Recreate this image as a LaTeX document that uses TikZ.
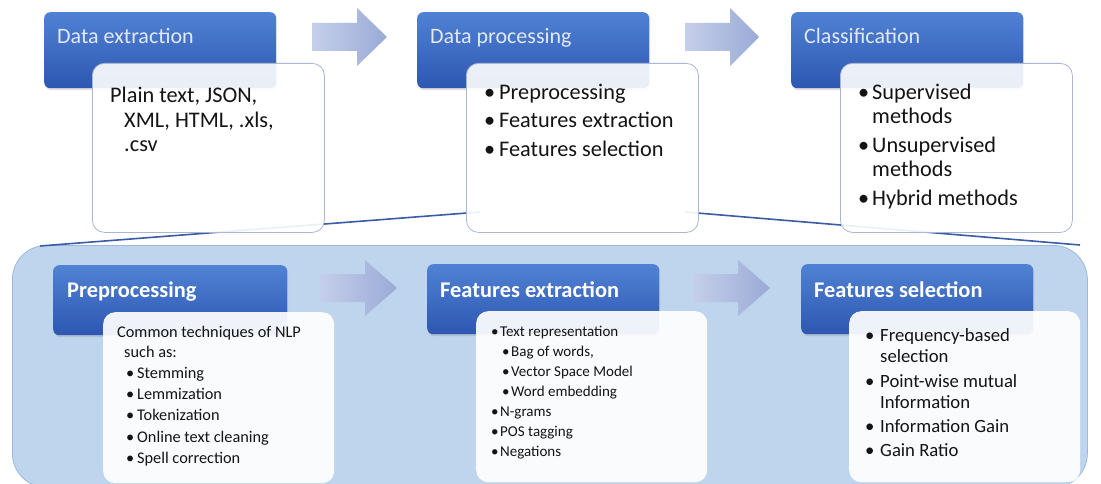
\documentclass[tikz,border=0pt]{standalone}
\usepackage{fontspec}
\setmainfont{Carlito}
\usetikzlibrary{shadows}
\definecolor{bluetop}{HTML}{5082D4}
\definecolor{bluebot}{HTML}{2D57B1}
\definecolor{lighttext}{HTML}{E2E8F6}
\definecolor{panel}{HTML}{BED5ED}
\definecolor{panelborder}{HTML}{9DB8DC}
\definecolor{wbborder}{HTML}{A9B7D5}
\definecolor{arrl}{HTML}{C5CFEA}
\definecolor{arrr}{HTML}{9AAAD6}
\definecolor{linec}{HTML}{3A5CA6}
\definecolor{txt}{HTML}{141414}
\newcommand\flowarrow[6]{% x0, neck, tip, yc, shaft half, head half
  \path[arrowfill] ({#1},{#4-#5}) -- ({#2},{#4-#5}) -- ({#2},{#4-#6}) -- ({#3},{#4})
    -- ({#2},{#4+#6}) -- ({#2},{#4+#5}) -- ({#1},{#4+#5}) -- cycle;}
\newcommand\bl[2]{\makebox[#1][l]{•}#2}
\begin{document}
\begin{tikzpicture}[x=1pt,y=-1pt,
  bluebox/.style={draw=none, rounded corners=6pt, top color=bluetop, bottom color=bluebot,
    minimum width=232pt, minimum height=76pt, anchor=north west, inner sep=0pt,
    drop shadow={opacity=0.25, shadow xshift=1pt, shadow yshift=-2pt}},
  lowblue/.style={bluebox, minimum height=70pt},
  whitebox/.style={draw=wbborder, line width=0.8pt, fill=white, fill opacity=0.9,
    rounded corners=12pt, minimum width=232pt, minimum height=169pt, anchor=north west, inner sep=0pt},
  lowwhite/.style={draw=none, fill=white, fill opacity=0.92, rounded corners=12pt,
    minimum width=231pt, minimum height=171pt, anchor=north west, inner sep=0pt},
  arrowfill/.style={left color=arrl, right color=arrr, draw=none},
  toptitle/.style={anchor=base west, inner sep=0pt, text=lighttext, font=\fontsize{22}{26}\selectfont},
  lowtitle/.style={anchor=base west, inner sep=0pt, text=white, font=\bfseries\fontsize{22.4}{26}\selectfont},
  toptext/.style={anchor=base west, inner sep=0pt, text=txt, font=\fontsize{22.3}{26}\selectfont},
  pptext/.style={anchor=base west, inner sep=0pt, text=txt, font=\fontsize{16.3}{19}\selectfont},
  fetext/.style={anchor=base west, inner sep=0pt, text=txt, font=\fontsize{15}{18}\selectfont},
  fstext/.style={anchor=base west, inner sep=0pt, text=txt, font=\fontsize{18.7}{22}\selectfont},
  zoomline/.style={draw=linec, line width=1.6pt}
]
\useasboundingbox (0,0) rectangle (1101,484);
\clip (0,0) rectangle (1101,484);
\fill[white] (0,0) rectangle (1101,484);

% lower panel
\node[draw=panelborder, line width=0.8pt, fill=panel, rounded corners=34pt, anchor=north west,
  minimum width=1075pt, minimum height=242pt, inner sep=0pt] (panel) at (12,245) {};

% zoom lines
\coordinate (zl1) at (40,246);
\coordinate (zl2) at (480,212);
\coordinate (zr1) at (685,212);
\coordinate (zr2) at (1080,245);
\draw[zoomline] (zl1) -- (zl2);
\draw[zoomline] (zr1) -- (zr2);

% top row
\node[bluebox] (de) at (44,12) {};
\node[whitebox] (dew) at (92,63) {};
\node[toptitle] (det) at (57,44) {Data extraction};
\node[toptext] (de1) at (110,103) {Plain text, JSON,};
\node[toptext] (de2) at (124,128) {XML, HTML, .xls,};
\node[toptext] (de3) at (124,152) {.csv};

\flowarrow{312}{357}{387}{37}{14}{29}

\node[bluebox] (dp) at (417,12) {};
\node[whitebox] (dpw) at (466,63) {};
\node[toptitle] (dpt) at (430,44) {Data processing};
\node[toptext] (dp1) at (484,100) {\bl{15pt}{Preprocessing}};
\node[toptext] (dp2) at (484,128) {\bl{15pt}{Features extraction}};
\node[toptext] (dp3) at (484,157) {\bl{15pt}{Features selection}};

\flowarrow{685}{730}{759}{37}{14}{29}

\node[bluebox] (cl) at (791,12) {};
\node[whitebox] (clw) at (840,63) {};
\node[toptitle] (clt) at (804,44) {Classification};
\node[toptext] (cl1) at (858,100) {\bl{14pt}{Supervised}};
\node[toptext] (cl2) at (872,124) {methods};
\node[toptext] (cl3) at (858,153) {\bl{14pt}{Unsupervised}};
\node[toptext] (cl4) at (872,177) {methods};
\node[toptext] (cl5) at (858,206) {\bl{14pt}{Hybrid methods}};

% lower row
\node[lowblue, minimum width=234pt] (pp) at (53,265) {};
\node[lowwhite] (ppw) at (103,312) {};
\node[lowtitle] (ppt) at (67,297) {Preprocessing};
\node[pptext] (pp1) at (117,337) {Common techniques of NLP};
\node[pptext] (pp2) at (124,357) {such as:};
\node[pptext] (pp3) at (126,378) {\bl{11pt}{Stemming}};
\node[pptext] (pp4) at (126,399) {\bl{11pt}{Lemmization}};
\node[pptext] (pp5) at (126,420) {\bl{11pt}{Tokenization}};
\node[pptext] (pp6) at (126,442) {\bl{11pt}{Online text cleaning}};
\node[pptext] (pp7) at (126,463) {\bl{11pt}{Spell correction}};

\flowarrow{320}{365}{397}{288}{14}{28}

\node[lowblue] (fe) at (427,264) {};
\node[lowwhite] (few) at (476,311) {};
\node[lowtitle] (fet) at (440,297) {Features extraction};
\node[fetext] (fe1) at (491,336) {\bl{9pt}{Text representation}};
\node[fetext] (fe2) at (502,356) {\bl{9pt}{Bag of words,}};
\node[fetext] (fe3) at (502,376) {\bl{9pt}{Vector Space Model}};
\node[fetext] (fe4) at (502,396) {\bl{9pt}{Word embedding}};
\node[fetext] (fe5) at (491,416) {\bl{9pt}{N-grams}};
\node[fetext] (fe6) at (491,436) {\bl{9pt}{POS tagging}};
\node[fetext] (fe7) at (491,456) {\bl{9pt}{Negations}};

\flowarrow{693}{738}{770}{288}{14}{28}

\node[lowblue] (fs) at (801,264) {};
\node[lowwhite] (fsw) at (849,311) {};
\node[lowtitle] (fst) at (814,297) {Features selection};
\node[fstext] (fs1) at (865,341) {\bl{15pt}{Frequency-based}};
\node[fstext] (fs2) at (880,362) {selection};
\node[fstext] (fs3) at (865,387) {\bl{15pt}{Point-wise mutual}};
\node[fstext] (fs4) at (880,408) {Information};
\node[fstext] (fs5) at (865,432) {\bl{15pt}{Information Gain}};
\node[fstext] (fs6) at (865,456) {\bl{15pt}{Gain Ratio}};
\end{tikzpicture}
\end{document}
